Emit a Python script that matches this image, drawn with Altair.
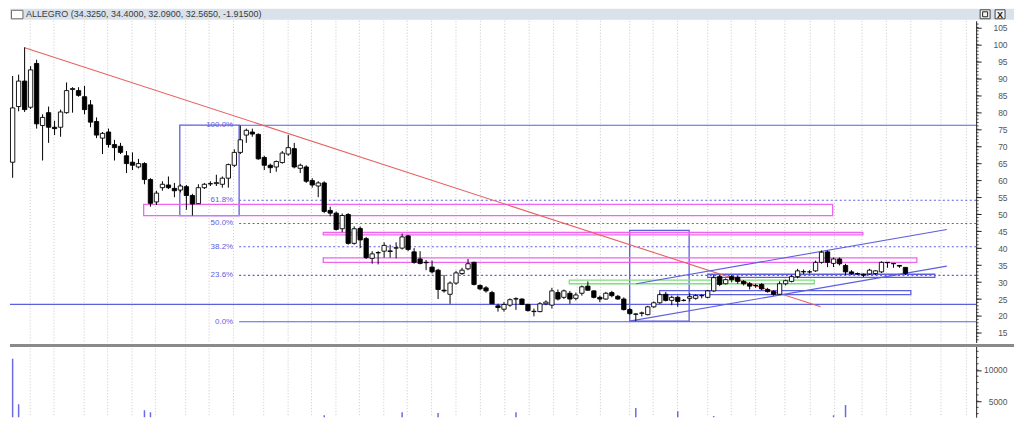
import altair as alt
import pandas as pd

# ---------------- data ----------------
opens = [65.3, 81.7, 89.2, 81.5, 94.4, 76.1, 79.9, 75.6, 75.6, 79.9,
         86.7, 86.4, 84.6, 82.2, 77.3, 72.4, 74.2, 70.5, 70.0, 67.2,
         65.3, 63.9, 64.9, 60.2, 53.6, 57.8, 58.6, 57.6, 57.1, 58.1,
         55.5, 53.1, 57.8, 58.9, 59.0, 58.8, 60.6, 64.4, 68.2, 73.3,
         74.2, 73.5, 66.7, 64.4, 63.9, 65.2, 67.7, 69.3, 63.5, 63.9,
         59.9, 58.3, 59.2, 51.1, 50.3, 45.7, 49.9, 41.4, 45.8, 42.8,
         37.0, 38.6, 39.1, 39.0, 40.0, 40.0, 43.6, 38.9, 36.8, 35.8,
         34.4, 33.5, 27.6, 26.4, 29.7, 32.5, 33.9, 35.8, 29.0, 28.3,
         26.9, 23.0, 22.0, 23.2, 25.0, 25.0, 23.4, 21.3, 21.3, 23.6,
         23.2, 26.9, 25.5, 26.7, 25.2, 26.7, 28.8, 27.4, 25.5, 25.0,
         26.9, 25.8, 25.0, 21.9, 20.5, 20.8, 20.4, 22.7, 23.9, 26.4,
         24.6, 25.5, 24.6, 25.2, 25.2, 26.0, 25.5, 27.4, 31.6, 29.5,
         31.6, 31.4, 30.2, 29.5, 29.0, 29.3, 27.8, 27.2, 26.4, 29.5,
         30.2, 31.6, 33.0, 33.0, 33.3, 35.8, 38.9, 35.5, 36.8, 34.9,
         33.0, 32.5, 32.3, 32.4, 32.5, 33.0, 35.8, 35.5, 34.9, 34.325]
highs = [90.7, 91.1, 99.1, 93.6, 95.5, 79.4, 81.7, 77.5, 80.8, 88.8,
         87.4, 87.4, 87.8, 83.6, 78.5, 74.2, 75.2, 71.9, 71.0, 68.6,
         68.2, 66.3, 65.3, 60.6, 56.9, 59.7, 61.1, 59.2, 58.8, 58.6,
         56.0, 58.8, 59.2, 59.7, 61.6, 61.1, 64.9, 69.1, 76.1, 75.2,
         75.2, 73.8, 67.2, 64.9, 65.8, 68.6, 73.3, 71.0, 64.9, 64.4,
         60.6, 59.7, 59.7, 52.2, 50.8, 50.2, 50.3, 46.4, 46.4, 43.3,
         39.1, 39.1, 41.7, 41.0, 41.7, 44.3, 43.9, 40.0, 39.1, 36.5,
         36.3, 33.9, 32.1, 30.2, 33.3, 34.2, 36.8, 36.0, 29.3, 28.8,
         27.4, 23.6, 24.1, 25.2, 25.5, 25.2, 23.6, 22.2, 24.1, 24.6,
         28.3, 27.8, 27.8, 27.4, 26.9, 29.0, 30.2, 27.6, 26.0, 27.1,
         27.4, 26.2, 25.5, 22.3, 20.8, 21.3, 23.0, 24.3, 26.7, 27.1,
         26.0, 26.0, 25.0, 26.7, 26.4, 26.4, 27.7, 32.1, 32.1, 31.1,
         32.1, 31.8, 30.6, 30.0, 29.5, 29.7, 28.3, 27.6, 30.2, 30.7,
         32.1, 33.9, 33.7, 33.5, 36.3, 39.3, 39.3, 37.2, 37.2, 35.4,
         33.5, 32.8, 32.5, 33.9, 33.5, 36.1, 35.9, 35.6, 35.0, 34.4]
lows = [60.7, 80.3, 80.1, 81.0, 75.2, 65.8, 71.0, 73.3, 72.8, 79.6,
        79.9, 84.6, 79.4, 75.6, 72.4, 67.7, 69.6, 65.8, 67.7, 62.1,
        63.0, 63.5, 58.8, 52.2, 52.7, 56.9, 57.4, 55.0, 56.4, 51.3,
        49.6, 53.1, 57.4, 58.3, 58.3, 57.8, 57.8, 63.9, 67.7, 71.0,
        72.8, 66.0, 63.0, 62.1, 62.5, 64.9, 67.2, 63.5, 62.1, 59.2,
        57.8, 55.0, 50.3, 49.4, 45.2, 44.7, 41.0, 41.0, 40.0, 36.8,
        35.4, 35.2, 37.2, 37.2, 37.0, 39.6, 39.1, 35.4, 35.2, 33.5,
        32.5, 25.0, 26.9, 23.6, 29.2, 32.1, 33.5, 29.0, 27.6, 26.9,
        23.6, 21.3, 21.3, 22.7, 21.8, 23.2, 21.3, 19.9, 21.1, 23.2,
        22.2, 24.6, 25.0, 23.6, 24.6, 26.0, 27.4, 25.2, 24.1, 24.8,
        25.5, 24.8, 21.6, 20.4, 18.5, 19.9, 20.2, 22.4, 23.6, 24.3,
        23.2, 22.7, 24.3, 24.3, 24.8, 25.2, 25.2, 27.1, 28.8, 29.3,
        29.9, 29.5, 29.0, 27.8, 28.3, 27.6, 26.9, 26.0, 26.2, 29.0,
        29.9, 31.1, 32.3, 32.5, 33.0, 35.4, 34.4, 34.4, 34.9, 32.1,
        32.1, 32.1, 31.5, 32.1, 32.1, 32.7, 34.2, 34.2, 34.2, 32.09]
closes = [81.3, 89.2, 80.8, 92.5, 76.6, 78.5, 75.6, 75.2, 80.1, 86.4,
          87.0, 85.0, 80.8, 77.1, 73.3, 73.8, 70.5, 69.6, 68.2, 64.9,
          64.4, 64.9, 60.2, 53.2, 56.2, 58.8, 57.8, 56.9, 58.3, 55.5,
          53.0, 57.8, 58.8, 59.0, 59.3, 60.6, 64.6, 68.2, 71.9, 74.7,
          73.6, 66.3, 64.4, 63.7, 65.5, 68.0, 69.6, 63.9, 64.4, 59.7,
          58.6, 59.2, 50.8, 50.3, 45.5, 49.6, 41.4, 45.7, 42.4, 37.2,
          38.3, 38.7, 40.8, 39.2, 40.1, 43.3, 39.6, 35.8, 35.5, 35.7,
          33.0, 27.8, 27.4, 29.7, 32.7, 33.5, 35.4, 29.3, 28.0, 27.4,
          23.6, 22.5, 23.4, 24.8, 25.1, 23.4, 21.6, 21.4, 23.6, 24.1,
          27.4, 25.0, 27.4, 25.0, 26.2, 28.6, 27.6, 25.5, 25.0, 26.7,
          26.0, 25.0, 21.9, 20.7, 20.6, 20.9, 22.7, 23.9, 26.3, 24.6,
          25.5, 24.3, 24.6, 25.7, 26.0, 26.0, 27.4, 31.3, 29.3, 30.7,
          30.7, 30.2, 29.5, 28.8, 28.9, 28.0, 27.2, 26.4, 29.5, 30.4,
          31.6, 33.3, 33.1, 33.0, 35.8, 38.8, 35.8, 36.8, 35.4, 33.0,
          32.5, 32.4, 32.0, 33.5, 33.3, 35.8, 35.7, 35.4, 34.7, 32.565]

vol_days = [1, 2, 23, 24, 53, 66, 72, 85, 105, 112, 118, 138, 140]
vol_values = [11800, 4500, 3530, 3230, 2730, 3230, 3080, 3230, 3890, 3380, 2600, 2730, 4390]

fib_labels = ["100.0%", "61.8%", "50.0%", "38.2%", "23.6%", "0.0%"]
fib_prices = [76.2, 54.08, 47.25, 40.42, 31.96, 18.3]
fib_kind = ["solid", "dot", "dot", "dot", "dot", "solid"]

# drawn objects, in (bar index, price)
box_x1 = [28.9, 103.98, 108.98, 117.0, 22.87, 52.84, 52.84, 93.9]
box_x2 = [38.8, 113.9, 150.9, 154.9, 137.85, 142.9, 151.9, 134.8]
box_p1 = [49.6, 18.5, 26.3, 31.4, 49.6, 43.9, 35.8, 29.5]
box_p2 = [76.2, 45.2, 27.5, 32.3, 52.9, 44.6, 37.1, 30.6]
box_kind = ["blue", "blue", "blue", "blue", "magenta", "magenta", "magenta", "green"]

seg_x1 = [2.89, 105.07, 103.98]
seg_x2 = [135.85, 156.9, 156.9]
seg_p1 = [99.1, 29.5, 18.5]
seg_p2 = [22.7, 45.5, 34.7]
seg_kind = ["red", "blue", "blue"]

support_price = 23.45

price_ticks = [15, 20, 25, 30, 35, 40, 45, 50, 55, 60, 65, 70, 75, 80, 85, 90, 95, 100, 105]
volume_ticks = [5000, 10000]
title_text = "ALLEGRO (34.3250, 34.4000, 32.0900, 32.5650, -1.91500)"

# ---------------- layout ----------------
W = 970
H_HEAD = 11
H_MAIN = 323
H_VOL = 72
TOTAL_W = 1008
FIB_START = 38.8
X_DOMAIN = [0.56, 161.8]
P_DOMAIN = [12.2, 106.97]
V_DOMAIN = [2424, 13939]
grid_ref_x = [20.7, 45, 76, 100, 125, 149, 180, 204, 229, 260, 285, 309, 334, 358,
              383, 407, 432, 457, 482, 507, 532, 557, 581, 605, 635, 659, 684, 715,
              739, 764, 794, 820, 845, 873, 898, 923, 954, 980]
grid_idx = [(x - 2.7) / 6.14 + 1 for x in grid_ref_x]

BLUE = "#5e5ee0"
FONT = "Liberation Sans"
color_map = {"blue": BLUE, "magenta": "#f064f0", "green": "#7ee07e", "red": "#e86060"}

n = len(opens)
candles = pd.DataFrame({"i": list(range(1, n + 1)), "open": opens, "high": highs,
                        "low": lows, "close": closes})
candles["bx1"] = candles["i"] - 0.36
candles["bx2"] = candles["i"] + 0.36

boxes = pd.DataFrame({"x1": box_x1, "x2": box_x2, "p1": box_p1, "p2": box_p2,
                      "col": [color_map[k] for k in box_kind]})
segs = pd.DataFrame({"x1": seg_x1, "x2": seg_x2, "p1": seg_p1, "p2": seg_p2,
                     "col": [color_map[k] for k in seg_kind]})
fibs = pd.DataFrame({"lab": fib_labels, "p": fib_prices, "kind": fib_kind,
                     "x1": FIB_START, "x2": X_DOMAIN[1], "lx": 37.8})
grid_df = pd.DataFrame({"gi": grid_idx})
minor_df = pd.DataFrame({"t": list(range(13, 107))})
vol_df = pd.DataFrame({"i": vol_days, "v": vol_values, "z": 0})
vminor_df = pd.DataFrame({"t": list(range(3000, 14000, 1000))})
one = pd.DataFrame({"a": [0]})

xs = alt.Scale(domain=X_DOMAIN, nice=False, zero=False)
ps = alt.Scale(domain=P_DOMAIN, nice=False, zero=False)
vs = alt.Scale(domain=V_DOMAIN, nice=False, zero=False)

price_axis = alt.Axis(orient="right", values=price_ticks, tickSize=5, labelAlign="right",
                      labelPadding=26, domainColor="#222", tickColor="#222",
                      labelColor="#555", labelFontSize=8.5, labelFont=FONT,
                      grid=False, title=None, format="d", labelBaseline="middle")
vol_axis = alt.Axis(orient="right", values=volume_ticks, tickSize=5, labelAlign="right",
                    labelPadding=26, domainColor="#222", tickColor="#222",
                    labelColor="#555", labelFontSize=8.5, labelFont=FONT,
                    grid=False, title=None, format="d", labelBaseline="middle")


def PX(f):
    return alt.X(f, type="quantitative", scale=xs, axis=None)


def PY(f):
    return alt.Y(f, type="quantitative", scale=ps, axis=price_axis)


def VY(f):
    return alt.Y(f, type="quantitative", scale=vs, axis=vol_axis)


# ---------------- main price panel ----------------
grid = alt.Chart(grid_df).mark_rule(color="#c8c8c8", strokeDash=[1, 2], strokeWidth=1).encode(
    x=PX("gi"))

support = alt.Chart(pd.DataFrame({"p": [support_price]})).mark_rule(
    color=BLUE, strokeWidth=1.2).encode(y=PY("p"))

fib_lines = alt.Chart(fibs).mark_rule(color=BLUE, strokeWidth=1.1).encode(
    x=PX("x1"), x2="x2", y=PY("p"),
    strokeDash=alt.StrokeDash("kind:N", scale=alt.Scale(domain=["solid", "dot"],
                                                        range=[[1, 0], [2, 2.5]]),
                              legend=None))

fib_text = alt.Chart(fibs).mark_text(align="right", baseline="middle", fontSize=8,
                                     font=FONT, color=BLUE).encode(
    x=PX("lx"), y=PY("p"), text="lab:N")

box_layer = alt.Chart(boxes).mark_rect(fillOpacity=0, strokeWidth=1.3).encode(
    x=PX("x1"), x2="x2", y=PY("p1"), y2="p2",
    stroke=alt.Stroke("col:N", scale=None))

seg_layer = alt.Chart(segs).mark_rule(strokeWidth=1.1).encode(
    x=PX("x1"), x2="x2", y=PY("p1"), y2="p2",
    color=alt.Color("col:N", scale=None))

wicks = alt.Chart(candles).mark_rule(color="black", strokeWidth=1).encode(
    x=PX("i"), y=PY("low"), y2="high")

bodies = alt.Chart(candles).mark_rect(stroke="black", strokeWidth=0.9).encode(
    x=PX("bx1"), x2="bx2", y=PY("open"), y2="close",
    fill=alt.condition("datum.close >= datum.open", alt.value("white"), alt.value("black")))

minor = alt.Chart(minor_df).mark_rule(color="#222", strokeWidth=0.8).encode(
    y=PY("t"), x=alt.value(W), x2=alt.value(W + 2.5))

main = alt.layer(grid, support, fib_lines, box_layer, seg_layer, wicks, bodies,
                 fib_text, minor).properties(width=W, height=H_MAIN)

# ---------------- volume panel ----------------
vgrid = alt.Chart(grid_df).mark_rule(color="#c8c8c8", strokeDash=[1, 2], strokeWidth=1).encode(
    x=PX("gi"))
vbars = alt.Chart(vol_df).mark_rule(color="#6a6ae6", strokeWidth=1.5, clip=True).encode(
    x=PX("i"), y=VY("v"), y2="z")
vminor = alt.Chart(vminor_df).mark_rule(color="#222", strokeWidth=0.8).encode(
    y=VY("t"), x=alt.value(W), x2=alt.value(W + 2.5))
sep = alt.Chart(one).mark_rule(color="#8a8a8a", strokeWidth=3).encode(
    x=alt.value(0), x2=alt.value(TOTAL_W), y=alt.value(0))
volume = alt.layer(vgrid, vbars, vminor, sep).properties(width=W, height=H_VOL)

# ---------------- header strip ----------------
head_bg = alt.Chart(one).mark_rect(color="#d9e1eb").encode(
    x=alt.value(0), x2=alt.value(TOTAL_W), y=alt.value(0), y2=alt.value(H_HEAD))
head_icon = alt.Chart(one).mark_rect(fill="white", stroke="#6d6d6d", strokeWidth=1).encode(
    x=alt.value(1.5), x2=alt.value(13), y=alt.value(1.5), y2=alt.value(10))
head_text = alt.Chart(one).mark_text(align="left", baseline="middle", fontSize=9,
                                     font=FONT, color="#3a3a3a").encode(
    x=alt.value(16), y=alt.value(5.5), text=alt.value(title_text))
btn_box = alt.Chart(pd.DataFrame({"b": [974, 989]})).mark_rect(
    fill="#f4f4f4", stroke="#444", strokeWidth=1).encode(
    x=alt.X("b:Q", scale=None, axis=None), x2=alt.X2("b2:Q"), y=alt.value(1), y2=alt.value(10)
).transform_calculate(b2="datum.b + 10")
btn_sq = alt.Chart(one).mark_rect(fillOpacity=0, stroke="#222", strokeWidth=1).encode(
    x=alt.value(976.5), x2=alt.value(981.5), y=alt.value(3), y2=alt.value(8))
btn_x = alt.Chart(one).mark_text(align="center", baseline="middle", fontSize=9,
                                 fontWeight="bold", font=FONT, color="#111").encode(
    x=alt.value(994), y=alt.value(5.8), text=alt.value("X"))
header = alt.layer(head_bg, head_icon, head_text, btn_box, btn_sq, btn_x).properties(
    width=TOTAL_W, height=H_HEAD)

chart = alt.vconcat(header, main, volume, spacing=0).resolve_scale(
    x="independent", y="independent").configure_view(stroke=None).properties(
    padding=0, background="white")

chart.save("out.html", embed_options={"renderer": "svg", "actions": False})
